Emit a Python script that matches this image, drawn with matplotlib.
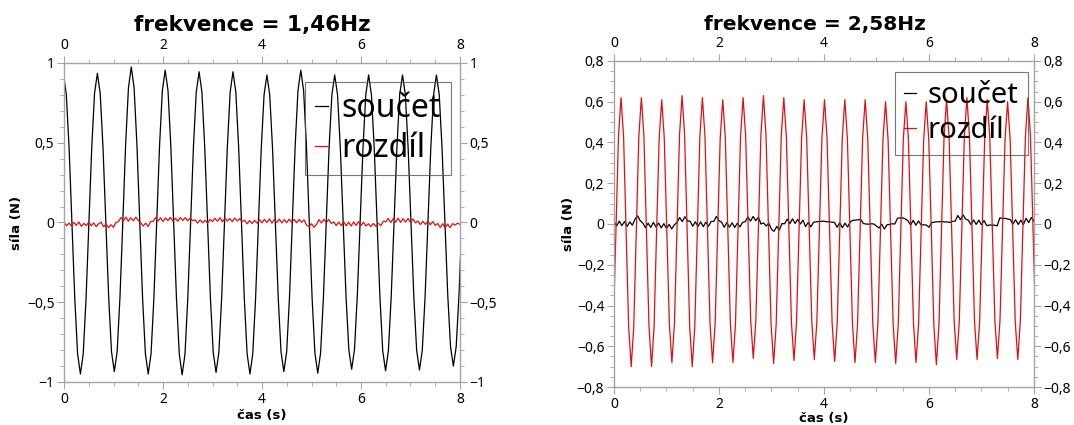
import matplotlib
matplotlib.use("Agg")
import matplotlib.pyplot as plt
from matplotlib.ticker import MultipleLocator, FuncFormatter
import numpy as np

# --- levý graf: frekvence 1,46 Hz (součet = sinus, rozdíl = šum) ---
# součet, 12 vzorků na periodu (první vzorek = první maximum)
start_soucet_1 = -0.011
krok_soucet_1 = 0.05708
f_soucet_1 = [
    0.93, 0.805, 0.465, 0.0, -0.475, -0.823, -0.95, -0.823, -0.475, 0.0, 0.468, 0.81,
    0.935, 0.81, 0.468, 0.0, -0.468, -0.81, -0.935, -0.81, -0.468, 0.0, 0.488, 0.844,
    0.975, 0.844, 0.488, 0.0, -0.475, -0.823, -0.95, -0.823, -0.475, 0.0, 0.478, 0.827,
    0.955, 0.827, 0.478, 0.0, -0.478, -0.827, -0.955, -0.827, -0.478, 0.0, 0.473, 0.818,
    0.945, 0.818, 0.473, 0.0, -0.47, -0.814, -0.94, -0.814, -0.47, 0.0, 0.473, 0.818,
    0.945, 0.818, 0.473, 0.0, -0.475, -0.823, -0.95, -0.823, -0.475, 0.0, 0.463, 0.801,
    0.925, 0.801, 0.463, 0.0, -0.468, -0.81, -0.935, -0.81, -0.468, 0.0, 0.478, 0.827,
    0.955, 0.827, 0.478, 0.0, -0.473, -0.818, -0.945, -0.818, -0.473, 0.0, 0.463, 0.801,
    0.925, 0.801, 0.463, 0.0, -0.46, -0.797, -0.92, -0.797, -0.46, 0.0, 0.463, 0.801,
    0.925, 0.801, 0.463, 0.0, -0.465, -0.805, -0.93, -0.805, -0.465, 0.0, 0.463, 0.801,
    0.925, 0.801, 0.463, 0.0, -0.463, -0.801, -0.925, -0.801, -0.463, 0.0, 0.463, 0.801,
    0.925, 0.801, 0.463, 0.0, -0.45, -0.779, -0.90, -0.779, -0.45, 0.0]

# rozdíl, vzorek každých 0,05 s od 0 do 8 s
f_rozdil_1 = [
    0.002, -0.020, -0.004, -0.022, 0.000, -0.018, 0.003, -0.024, -0.006, -0.019,
    0.001, -0.021, -0.003, -0.026, -0.008, 0.002, -0.027, -0.010, -0.032, -0.014,
    -0.030, 0.000, 0.006, 0.031, 0.010, 0.034, 0.008, 0.030, 0.011, 0.033,
    0.012, -0.002, -0.022, -0.004, -0.025, 0.006, 0.006, 0.031, 0.009, 0.029,
    0.006, 0.028, 0.012, 0.032, 0.009, 0.027, 0.008, 0.031, 0.013, 0.030,
    0.010, 0.028, 0.011, 0.016, -0.004, 0.016, -0.002, 0.014, -0.005, 0.020,
    0.006, 0.026, 0.008, 0.030, 0.004, 0.027, 0.009, 0.025, 0.005, 0.028,
    0.010, 0.024, 0.006, 0.014, -0.008, 0.012, -0.006, 0.013, -0.004, 0.018,
    -0.002, 0.020, 0.000, 0.022, -0.004, 0.019, 0.001, 0.021, -0.003, 0.018,
    -0.001, 0.021, 0.000, 0.020, -0.002, 0.019, 0.001, 0.016, -0.016, -0.026,
    -0.008, -0.030, -0.012, 0.018, -0.003, 0.020, -0.001, 0.019, -0.006, 0.004,
    -0.020, 0.003, -0.019, 0.004, -0.021, 0.002, -0.022, 0.003, -0.018, 0.005,
    -0.019, 0.002, -0.022, -0.008, -0.026, -0.006, -0.024, -0.005, -0.020, 0.008,
    0.004, 0.025, 0.000, 0.024, 0.002, 0.027, 0.001, 0.023, 0.003, 0.025,
    0.000, 0.022, -0.002, 0.009, -0.013, 0.008, -0.012, 0.009, -0.015, 0.006,
    -0.018, -0.006, -0.031, -0.008, -0.034, -0.010, -0.032, -0.007, -0.016, -0.004,
    -0.012]

# --- pravý graf: frekvence 2,58 Hz (rozdíl = sinus, součet = šum) ---
# rozdíl, 8 vzorků na periodu (první vzorek = minimum před t = 0)
start_rozdil_2 = -0.06
krok_rozdil_2 = 0.04845
f_rozdil_2 = [
    -0.69, -0.497, -0.03, 0.43, 0.62, 0.43, -0.03, -0.504,
    -0.70, -0.504, -0.03, 0.43, 0.62, 0.43, -0.03, -0.504,
    -0.70, -0.504, -0.03, 0.422, 0.61, 0.422, -0.03, -0.49,
    -0.68, -0.49, -0.03, 0.437, 0.63, 0.437, -0.03, -0.504,
    -0.70, -0.504, -0.03, 0.43, 0.62, 0.43, -0.03, -0.49,
    -0.68, -0.49, -0.03, 0.422, 0.61, 0.422, -0.03, -0.49,
    -0.68, -0.49, -0.03, 0.43, 0.62, 0.43, -0.03, -0.475,
    -0.66, -0.475, -0.03, 0.437, 0.63, 0.437, -0.03, -0.493,
    -0.685, -0.493, -0.03, 0.43, 0.62, 0.43, -0.03, -0.482,
    -0.67, -0.482, -0.03, 0.422, 0.61, 0.422, -0.03, -0.479,
    -0.665, -0.479, -0.03, 0.422, 0.61, 0.422, -0.03, -0.486,
    -0.675, -0.486, -0.03, 0.422, 0.61, 0.422, -0.03, -0.49,
    -0.68, -0.49, -0.03, 0.422, 0.61, 0.422, -0.03, -0.49,
    -0.68, -0.49, -0.03, 0.415, 0.60, 0.415, -0.03, -0.493,
    -0.685, -0.493, -0.03, 0.415, 0.60, 0.415, -0.03, -0.49,
    -0.68, -0.49, -0.03, 0.415, 0.60, 0.415, -0.03, -0.497,
    -0.69, -0.497, -0.03, 0.422, 0.61, 0.422, -0.03, -0.479,
    -0.665, -0.479, -0.03, 0.43, 0.62, 0.43, -0.03, -0.479,
    -0.665, -0.479, -0.03, 0.422, 0.61, 0.422, -0.03, -0.475,
    -0.66, -0.475, -0.03, 0.415, 0.60, 0.415, -0.03, -0.479,
    -0.665, -0.479, -0.03, 0.43, 0.62, 0.43, -0.03, -0.482]

# součet, vzorek každých 0,05 s od 0 do 8 s
f_soucet_2 = [
    0.012, -0.010, 0.014, -0.008, 0.012, -0.012, 0.010, -0.006, 0.024, 0.040,
    0.016, 0.004, -0.018, 0.004, -0.017, 0.008, -0.015, 0.005, -0.019, 0.002,
    -0.022, -0.002, -0.024, -0.004, 0.008, 0.032, 0.012, 0.036, 0.015, 0.014,
    -0.011, 0.011, -0.012, 0.010, -0.013, 0.009, -0.011, 0.012, 0.013, 0.037,
    0.016, 0.009, -0.016, 0.007, -0.016, 0.006, -0.017, 0.004, -0.014, 0.008,
    0.011, 0.035, 0.014, 0.037, 0.016, 0.033, 0.000, 0.005, -0.010, 0.004,
    -0.026, -0.036, -0.012, -0.030, 0.002, 0.001, 0.024, 0.002, 0.025, 0.003,
    0.023, 0.000, 0.019, -0.013, 0.008, -0.014, 0.008, 0.011, 0.012, 0.013,
    0.014, 0.011, 0.011, 0.009, 0.008, -0.016, 0.006, -0.018, 0.004, -0.015,
    0.010, 0.018, 0.019, 0.021, 0.022, 0.002, 0.000, -0.001, 0.001, 0.000,
    -0.010, -0.020, -0.001, -0.025, -0.004, -0.002, 0.001, 0.000, 0.028, 0.030,
    0.030, 0.025, 0.016, -0.005, 0.018, -0.006, 0.015, -0.004, -0.004, -0.005,
    -0.016, 0.006, 0.009, 0.011, 0.011, 0.012, 0.010, 0.010, 0.008, 0.013,
    0.014, 0.042, 0.021, 0.045, 0.024, 0.018, -0.003, 0.020, -0.002, 0.019,
    -0.004, 0.017, -0.008, -0.005, -0.005, -0.006, -0.009, 0.030, 0.027, 0.028,
    0.024, 0.022, -0.001, 0.021, -0.002, 0.019, -0.003, 0.028, 0.007, 0.032,
    0.014]

titles = ["frekvence = 1,46Hz", "frekvence = 2,58Hz"]
x_label = "čas (s)"
y_label = "síla (N)"
spine_grey = "#a4a4a4"
red = "#e01010"
tick_font = "Noto Sans"


def cz_fmt(v, pos):
    s = ("%g" % round(v, 3)).replace(".", ",")
    return s.replace("-", "\u2212")


def style_axes(ax, ymin, ymax, ymajor, yminor, xpad, ypad):
    ax.set_xlim(0, 8)
    ax.set_ylim(ymin, ymax)
    ax.xaxis.set_major_locator(MultipleLocator(2))
    ax.xaxis.set_minor_locator(MultipleLocator(0.5))
    ax.yaxis.set_major_locator(MultipleLocator(ymajor))
    ax.yaxis.set_minor_locator(MultipleLocator(yminor))
    ax.xaxis.set_major_formatter(FuncFormatter(cz_fmt))
    ax.yaxis.set_major_formatter(FuncFormatter(cz_fmt))
    ax.tick_params(which="both", top=True, right=True, labeltop=True, labelright=True,
                   direction="out", color=spine_grey, labelsize=10, pad=2)
    ax.tick_params(which="major", length=5)
    ax.tick_params(which="minor", length=3)
    for lab in ax.get_xticklabels() + ax.get_yticklabels():
        lab.set_family(tick_font)
    for sp in ax.spines.values():
        sp.set_color(spine_grey)
        sp.set_linewidth(1.0)
    ax.set_xlabel(x_label, fontsize=9.5, fontweight="bold", labelpad=xpad)
    ax.set_ylabel(y_label, fontsize=9.5, fontweight="bold", labelpad=ypad)


fig = plt.figure(figsize=(10.74, 4.25), dpi=100)
ax1 = fig.add_axes([0.0596, 0.1012, 0.3687, 0.7506])
ax2 = fig.add_axes([0.5717, 0.0894, 0.3910, 0.7671])

t_soucet_1 = start_soucet_1 + krok_soucet_1 * np.arange(len(f_soucet_1))
t_rozdil_1 = np.linspace(0, 8, len(f_rozdil_1))
t_rozdil_2 = start_rozdil_2 + krok_rozdil_2 * np.arange(len(f_rozdil_2))
t_soucet_2 = np.linspace(0, 8, len(f_soucet_2))

ax1.plot(t_soucet_1, f_soucet_1, color="black", lw=0.9, label="součet")
ax1.plot(t_rozdil_1, f_rozdil_1, color=red, lw=0.9, label="rozdíl")
style_axes(ax1, -1, 1, 0.5, 0.1, 1.5, 3)

ax2.plot(t_soucet_2, f_soucet_2, color="black", lw=0.9, label="součet")
ax2.plot(t_rozdil_2, f_rozdil_2, color=red, lw=0.9, label="rozdíl")
style_axes(ax2, -0.8, 0.8, 0.2, 0.05, 0, 1.5)

ax1.text(0.475, 1.0 + 38 / 319, titles[0], transform=ax1.transAxes, ha="center",
         va="center", fontsize=15.5, fontweight="bold")
ax2.text(0.479, 1.0 + 36 / 326, titles[1], transform=ax2.transAxes, ha="center",
         va="center", fontsize=14.5, fontweight="bold")

for ax, fs, anchor in [(ax1, 23, (0.609, 0.94)), (ax2, 21, (0.669, 0.966))]:
    leg = ax.legend(loc="upper left", bbox_to_anchor=anchor, prop={"family": tick_font, "size": fs},
                    frameon=True, fancybox=False, handlelength=0.4, handletextpad=0.4,
                    borderpad=0.32, labelspacing=0.2, borderaxespad=0)
    fr = leg.get_frame()
    fr.set_facecolor("none")
    fr.set_edgecolor("#555555")
    fr.set_linewidth(0.8)

fig.savefig("out.png", dpi=100)
